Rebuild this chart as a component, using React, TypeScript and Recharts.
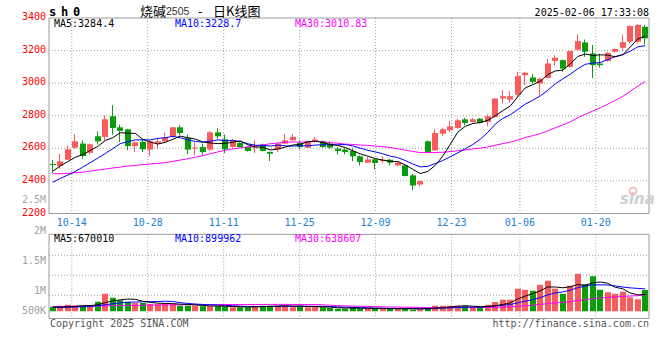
import React from "react";
import { ComposedChart, Bar, Line, XAxis, YAxis, CartesianGrid, ReferenceLine } from "recharts";

// trading days on the chart (MM-DD)
const dates = [
  "10-09", "10-10", "10-11", "10-14", "10-15", "10-16", "10-17", "10-18", "10-21", "10-22",
  "10-23", "10-24", "10-25", "10-28", "10-29", "10-30", "10-31", "11-01", "11-04", "11-05",
  "11-06", "11-07", "11-08", "11-11", "11-12", "11-13", "11-14", "11-15", "11-18", "11-19",
  "11-20", "11-21", "11-22", "11-25", "11-26", "11-27", "11-28", "11-29", "12-02", "12-03",
  "12-04", "12-05", "12-06", "12-09", "12-10", "12-11", "12-12", "12-13", "12-16", "12-17",
  "12-18", "12-19", "12-20", "12-23", "12-24", "12-25", "12-26", "12-27", "12-30", "12-31",
  "01-02", "01-03", "01-06", "01-07", "01-08", "01-09", "01-10", "01-13", "01-14", "01-15",
  "01-16", "01-17", "01-20", "01-21", "01-22", "01-23", "01-24", "01-27", "02-05", "02-06",
];
const labelDates = ["10-14", "10-28", "11-11", "11-25", "12-09", "12-23", "01-06", "01-20"];

const opens = [
  2504, 2491, 2530, 2604, 2629, 2573, 2674, 2670, 2797, 2729,
  2717, 2614, 2639, 2592, 2629, 2643, 2674, 2729, 2666, 2602,
  2608, 2592, 2698, 2655, 2608, 2633, 2608, 2606, 2623, 2578,
  2594, 2629, 2649, 2633, 2604, 2639, 2643, 2629, 2598, 2592,
  2584, 2551, 2512, 2532, 2522, 2530, 2495, 2495, 2434, 2378,
  2643, 2588, 2690, 2711, 2725, 2778, 2762, 2782, 2762, 2793,
  2906, 2899, 2930, 3049, 3035, 2998, 3033, 3137, 3141, 3100,
  3205, 3250, 3182, 3121, 3136, 3193, 3217, 3254, 3254, 3346,
];
const highs = [
  2528, 2567, 2618, 2686, 2649, 2629, 2704, 2803, 2865, 2746,
  2720, 2640, 2660, 2646, 2666, 2696, 2732, 2742, 2684, 2635,
  2629, 2707, 2723, 2684, 2660, 2637, 2612, 2649, 2629, 2580,
  2635, 2686, 2686, 2649, 2649, 2670, 2649, 2643, 2608, 2602,
  2598, 2557, 2547, 2536, 2551, 2536, 2520, 2502, 2444, 2403,
  2649, 2717, 2727, 2768, 2782, 2787, 2787, 2786, 2809, 2908,
  2957, 2951, 3070, 3070, 3055, 3033, 3148, 3172, 3146, 3199,
  3300, 3268, 3234, 3180, 3190, 3213, 3298, 3355, 3363, 3357,
];
const lows = [
  2450, 2475, 2526, 2598, 2536, 2563, 2623, 2649, 2684, 2639,
  2588, 2577, 2577, 2553, 2598, 2639, 2664, 2680, 2563, 2557,
  2557, 2584, 2660, 2571, 2604, 2604, 2580, 2571, 2580, 2522,
  2577, 2625, 2645, 2596, 2602, 2635, 2604, 2598, 2563, 2563,
  2522, 2495, 2510, 2469, 2510, 2495, 2489, 2428, 2342, 2366,
  2575, 2584, 2676, 2700, 2721, 2741, 2758, 2752, 2735, 2789,
  2875, 2879, 2910, 2988, 2998, 2926, 3029, 3107, 3070, 3096,
  3199, 3162, 3031, 3096, 3131, 3187, 3199, 3244, 3244, 3238,
];
const closes = [
  2500, 2520, 2594, 2643, 2553, 2625, 2643, 2778, 2725, 2707,
  2614, 2637, 2594, 2643, 2643, 2666, 2729, 2694, 2592, 2605,
  2577, 2698, 2674, 2594, 2649, 2608, 2584, 2609, 2584, 2567,
  2629, 2649, 2670, 2608, 2643, 2653, 2608, 2604, 2584, 2577,
  2551, 2516, 2532, 2510, 2530, 2512, 2512, 2430, 2372, 2399,
  2578, 2694, 2717, 2735, 2772, 2756, 2778, 2756, 2797, 2906,
  2920, 2920, 3043, 3064, 3008, 3027, 3121, 3156, 3090, 3197,
  3258, 3193, 3111, 3111, 3186, 3210, 3252, 3351, 3357, 3275,
];
const ma5 = [
  2460, 2492, 2518, 2545, 2562, 2587, 2612, 2648, 2665, 2696,
  2693, 2692, 2655, 2639, 2626, 2637, 2655, 2675, 2665, 2657,
  2639, 2633, 2629, 2630, 2638, 2645, 2622, 2609, 2607, 2590,
  2595, 2608, 2620, 2625, 2640, 2645, 2636, 2623, 2618, 2605,
  2585, 2566, 2552, 2537, 2528, 2520, 2519, 2499, 2471, 2445,
  2458, 2495, 2552, 2625, 2699, 2735, 2752, 2759, 2772, 2799,
  2831, 2860, 2917, 2971, 2991, 3012, 3053, 3075, 3080, 3118,
  3164, 3179, 3170, 3174, 3172, 3162, 3174, 3222, 3271, 3289,
];
const ma10 = [
  2392, 2415, 2436, 2458, 2485, 2512, 2540, 2568, 2598, 2629,
  2640, 2652, 2652, 2652, 2661, 2665, 2674, 2665, 2652, 2642,
  2638, 2644, 2652, 2647, 2648, 2642, 2628, 2619, 2618, 2614,
  2620, 2615, 2614, 2616, 2615, 2620, 2622, 2622, 2622, 2623,
  2615, 2601, 2588, 2578, 2567, 2552, 2543, 2525, 2504, 2486,
  2489, 2507, 2525, 2548, 2572, 2597, 2623, 2656, 2698, 2749,
  2783, 2806, 2838, 2871, 2895, 2922, 2956, 2996, 3026, 3055,
  3088, 3116, 3123, 3127, 3145, 3163, 3176, 3196, 3223, 3230,
];
const ma30 = [
  2444, 2444, 2446, 2450, 2454, 2460, 2467, 2473, 2479, 2485,
  2491, 2495, 2500, 2504, 2508, 2512, 2520, 2528, 2536, 2545,
  2555, 2567, 2578, 2588, 2596, 2603, 2609, 2615, 2621, 2628,
  2633, 2637, 2639, 2638, 2641, 2642, 2641, 2635, 2631, 2626,
  2624, 2620, 2618, 2614, 2610, 2605, 2597, 2589, 2581, 2574,
  2574, 2574, 2576, 2580, 2585, 2590, 2596, 2601, 2608, 2619,
  2629, 2638, 2650, 2666, 2678, 2690, 2707, 2726, 2743, 2763,
  2787, 2809, 2829, 2849, 2871, 2894, 2919, 2949, 2982, 3011,
];

const volumes = [
  180000, 220000, 260000, 220000, 220000, 220000, 380000, 700000, 540000, 440000,
  380000, 330000, 330000, 290000, 290000, 330000, 290000, 220000, 220000, 220000,
  200000, 200000, 200000, 180000, 160000, 160000, 160000, 220000, 220000, 220000,
  220000, 220000, 160000, 220000, 160000, 160000, 160000, 130000, 100000, 100000,
  170000, 100000, 100000, 100000, 100000, 100000, 100000, 130000, 60000, 80000,
  130000, 220000, 220000, 220000, 220000, 220000, 130000, 130000, 260000, 370000,
  460000, 460000, 900000, 860000, 820000, 1060000, 1220000, 900000, 700000, 1020000,
  1500000, 1080000, 1400000, 860000, 760000, 700000, 780000, 560000, 480000, 850000,
];
const volMa5 = [
  170000, 170000, 180000, 200000, 220000, 228000, 260000, 348000, 412000, 456000,
  488000, 478000, 404000, 354000, 324000, 314000, 306000, 284000, 270000, 256000,
  230000, 212000, 208000, 200000, 188000, 180000, 172000, 176000, 184000, 196000,
  208000, 220000, 208000, 208000, 196000, 184000, 172000, 166000, 142000, 130000,
  132000, 120000, 114000, 114000, 114000, 100000, 100000, 106000, 98000, 94000,
  100000, 124000, 142000, 174000, 202000, 220000, 202000, 184000, 192000, 222000,
  270000, 336000, 490000, 610000, 700000, 820000, 972000, 972000, 940000, 980000,
  1068000, 1040000, 1140000, 1172000, 1120000, 960000, 900000, 732000, 656000, 674000,
];
const volMa10 = [
  150000, 150000, 160000, 170000, 180000, 190000, 220000, 260000, 300000, 338000,
  358000, 369000, 376000, 383000, 390000, 401000, 392000, 344000, 312000, 290000,
  272000, 259000, 246000, 235000, 222000, 205000, 192000, 192000, 192000, 192000,
  194000, 196000, 192000, 196000, 196000, 196000, 196000, 187000, 175000, 163000,
  158000, 146000, 140000, 128000, 122000, 116000, 110000, 110000, 106000, 104000,
  100000, 112000, 124000, 136000, 148000, 160000, 163000, 163000, 183000, 212000,
  245000, 269000, 337000, 401000, 461000, 545000, 654000, 731000, 775000, 840000,
  944000, 1006000, 1056000, 1056000, 1050000, 1014000, 970000, 936000, 914000, 897000,
];
const volMa30 = [
  190000, 190000, 195000, 200000, 200000, 205000, 210000, 215000, 220000, 225000,
  230000, 235000, 240000, 245000, 250000, 252000, 255000, 258000, 260000, 262000,
  264000, 266000, 267000, 268000, 269000, 270000, 271000, 272000, 272000, 273000,
  275000, 275000, 271000, 271000, 269000, 267000, 260000, 241000, 226000, 215000,
  208000, 200000, 193000, 186000, 180000, 172000, 166000, 163000, 158000, 153000,
  151000, 151000, 152000, 153000, 155000, 157000, 156000, 153000, 155000, 160000,
  168000, 176000, 200000, 222000, 244000, 274000, 309000, 335000, 355000, 385000,
  430000, 462000, 506000, 531000, 553000, 573000, 596000, 610000, 624000, 650000,
];

const priceTicks = [2200, 2276, 2400, 2600, 2800, 3000, 3200, 3400];
const priceTickLabels = ["2200", "2.5M", "2400", "2600", "2800", "3000", "3200", "3400"];
const priceGrid = [2400, 2600, 2800, 3000, 3200];
// sina prints its volume labels at odd heights; these are the levels where they sit
const volTicks = [3200000, 2010000, 810000, 10000];
const volTickLabels = ["2M", "1.5M", "1M", "500K"];
const volGrid = [2240000, 1440000, 640000];

const RED = "#f75b5b";
const GREEN = "#0a9c0a";
const GRID = "#a0a0a0";
const FRAME = "#9a9a9a";
const MONO = "'DejaVu Sans Mono', 'Liberation Mono', monospace";

const labelIdx = labelDates.map((d) => dates.indexOf(d));
const last = dates.length - 1;

const rows = dates.map((date, i) => ({
  date,
  idx: i,
  open: opens[i],
  high: highs[i],
  low: lows[i],
  close: closes[i],
  range: [lows[i], highs[i]],
  up: closes[i] >= opens[i],
  ma5: ma5[i],
  ma10: ma10[i],
  ma30: ma30[i],
  vol: volumes[i],
  vma5: volMa5[i],
  vma10: volMa10[i],
  vma30: volMa30[i],
}));

function CandleShape(props: any) {
  const { x, y, width, height, payload } = props;
  if (x == null || !payload) return null;
  const top = Math.min(y, y + height);
  const h = Math.abs(height);
  const { open, close, high, low } = payload;
  const k = high > low ? h / (high - low) : 0;
  const yAt = (v: number) => top + (high - v) * k;
  const color = close >= open ? RED : GREEN;
  const left = Math.round(x + width / 2 - 3);
  const bodyTop = yAt(Math.max(open, close));
  const bodyH = Math.max(1, yAt(Math.min(open, close)) - bodyTop);
  return (
    <g>
      <line x1={left + 2.5} x2={left + 2.5} y1={top} y2={top + h} stroke={color} strokeWidth={1} />
      <rect x={left} y={bodyTop} width={6} height={bodyH} fill={color} />
    </g>
  );
}

function VolShape(props: any) {
  const { x, y, width, height, payload } = props;
  if (x == null || !payload) return null;
  const top = Math.min(y, y + height);
  const left = Math.round(x + width / 2 - 3);
  return <rect x={left} y={top} width={6} height={Math.abs(height)} fill={payload.up ? RED : GREEN} />;
}

function PriceTick(props: any) {
  const { x, y, payload } = props;
  const label = priceTickLabels[priceTicks.indexOf(payload.value)];
  const ghost = label.endsWith("M");
  return (
    <text x={x} y={y} dy={2} textAnchor="end" fill={ghost ? "#a8a8a8" : "#f00"} fontSize={10} fontFamily={MONO}>
      {label}
    </text>
  );
}

function VolTick(props: any) {
  const { x, y, payload } = props;
  const label = volTickLabels[volTicks.indexOf(payload.value)];
  return (
    <text x={x} y={y} dy={3} textAnchor="end" fill="#a0a0a0" fontSize={10} fontFamily={MONO}>
      {label}
    </text>
  );
}

function Frame({ y0, y1, axis }: { y0: number; y1: number; axis: string }) {
  return (
    <>
      <ReferenceLine xAxisId="g" yAxisId={axis} y={y0} stroke={FRAME} />
      <ReferenceLine xAxisId="g" yAxisId={axis} y={y1} stroke={FRAME} />
      <ReferenceLine xAxisId="g" yAxisId={axis} x={0} stroke={FRAME} />
      <ReferenceLine xAxisId="g" yAxisId={axis} x={last} stroke={FRAME} />
    </>
  );
}

export default function App() {
  const txt = { fontFamily: MONO, fontSize: 10 };
  return (
    <div style={{ position: "absolute", left: 0, top: 0, width: 660, height: 360, background: "#fff" }}>
      {/* price panel */}
      <div style={{ position: "absolute", left: 0, top: 0, width: 660, height: 220 }}>
        <ComposedChart width={660} height={220} data={rows} margin={{ top: 18, right: 11, bottom: 6.5, left: 0 }}>
          <XAxis xAxisId="c" dataKey="date" hide />
          <XAxis xAxisId="g" dataKey="idx" type="number" domain={[0, last]} allowDataOverflow hide />
          <YAxis
            yAxisId="p"
            domain={[2200, 3400]}
            allowDataOverflow
            ticks={priceTicks}
            interval={0}
            tick={<PriceTick />}
            width={49}
            axisLine={false}
            tickLine={false}
            tickSize={0}
            tickMargin={3}
          />
          <CartesianGrid
            xAxisId="g"
            yAxisId="p"
            horizontalValues={priceGrid}
            verticalValues={labelIdx}
            stroke={GRID}
            strokeDasharray="1 2"
          />
          <Bar xAxisId="c" yAxisId="p" dataKey="range" shape={<CandleShape />} isAnimationActive={false} />
          <Line xAxisId="c" yAxisId="p" dataKey="ma30" stroke="#ff00ff" strokeWidth={1} dot={false} isAnimationActive={false} />
          <Line xAxisId="c" yAxisId="p" dataKey="ma10" stroke="#0000ff" strokeWidth={1} dot={false} isAnimationActive={false} />
          <Line xAxisId="c" yAxisId="p" dataKey="ma5" stroke="#000" strokeWidth={1} dot={false} isAnimationActive={false} />
          {Frame({ y0: 2200, y1: 3400, axis: "p" })}
        </ComposedChart>
      </div>

      {/* volume panel; the date labels ride on its top axis */}
      <div style={{ position: "absolute", left: 0, top: 215, width: 660, height: 103.5, pointerEvents: "none" }}>
        <ComposedChart width={660} height={103.5} data={rows} margin={{ top: 0, right: 11, bottom: 0, left: 0 }}>
          <XAxis xAxisId="c" dataKey="date" hide />
          <XAxis
            xAxisId="g"
            dataKey="idx"
            type="number"
            orientation="top"
            domain={[0, last]}
            allowDataOverflow
            ticks={labelIdx}
            interval={0}
            tickFormatter={(i: number) => dates[i]}
            axisLine={false}
            tickLine={false}
            tickSize={0}
            tickMargin={8.7}
            height={19.3}
            tick={{ fill: "#1b7fd0", fontSize: 10, fontFamily: MONO }}
          />
          <YAxis
            yAxisId="v"
            domain={[-290000, 3080000]}
            allowDataOverflow
            ticks={volTicks}
            interval={0}
            tick={<VolTick />}
            width={49}
            axisLine={false}
            tickLine={false}
            tickSize={0}
            tickMargin={3}
          />
          <CartesianGrid
            xAxisId="g"
            yAxisId="v"
            horizontalValues={volGrid}
            verticalValues={labelIdx}
            stroke={GRID}
            strokeDasharray="1 2"
          />
          <Bar xAxisId="c" yAxisId="v" dataKey="vol" shape={<VolShape />} isAnimationActive={false} />
          <Line xAxisId="c" yAxisId="v" dataKey="vma30" stroke="#ff00ff" strokeWidth={1} dot={false} isAnimationActive={false} />
          <Line xAxisId="c" yAxisId="v" dataKey="vma10" stroke="#0000ff" strokeWidth={1} dot={false} isAnimationActive={false} />
          <Line xAxisId="c" yAxisId="v" dataKey="vma5" stroke="#000" strokeWidth={1} dot={false} isAnimationActive={false} />
          {Frame({ y0: -290000, y1: 3080000, axis: "v" })}
        </ComposedChart>
      </div>

      <svg width={660} height={360} style={{ position: "absolute", left: 0, top: 0, pointerEvents: "none" }}>
        <text x={49} y={16} fontFamily={MONO} fontSize={12} fontWeight="bold" letterSpacing={4.8}>sh0</text>
        <text x={140} y={15.5} fontFamily="'Noto Sans CJK SC'" fontSize={13}>烧碱</text>
        <text x={166} y={14.5} fontFamily="'Liberation Sans'" fontSize={10.5} fill="#333">2505</text>
        <text x={198} y={15.5} fontFamily="'Noto Sans CJK SC'" fontSize={13}>-</text>
        <text x={213} y={15.5} fontFamily="'Noto Sans CJK SC'" fontSize={13}>日K线图</text>
        <text x={649} y={15.7} textAnchor="end" {...txt}>2025-02-06 17:33:08</text>

        <text x={54} y={27.3} {...txt} fill="#000">MA5:3284.4</text>
        <text x={175} y={27.3} {...txt} fill="#0000ff">MA10:3228.7</text>
        <text x={295} y={27.3} {...txt} fill="#ff00ff">MA30:3010.83</text>

        <text x={54} y={241.7} {...txt} fill="#000">MA5:670010</text>
        <text x={175} y={241.7} {...txt} fill="#0000ff">MA10:899962</text>
        <text x={295} y={241.7} {...txt} fill="#ff00ff">MA30:638607</text>

        <text x={620} y={204} fontFamily="'DejaVu Sans'" fontStyle="italic" fontWeight="bold" fontSize={15} fill="#cfcfcf">sina</text>
        <circle cx={633} cy={191} r={3.5} fill="none" stroke="#f3b0b0" strokeWidth={1.5} />

        <text x={50} y={326.7} {...txt} fill="#555">Copyright 2025 SINA.COM</text>
        <text x={649} y={326.7} textAnchor="end" {...txt} fill="#555">http://finance.sina.com.cn</text>
      </svg>
    </div>
  );
}
